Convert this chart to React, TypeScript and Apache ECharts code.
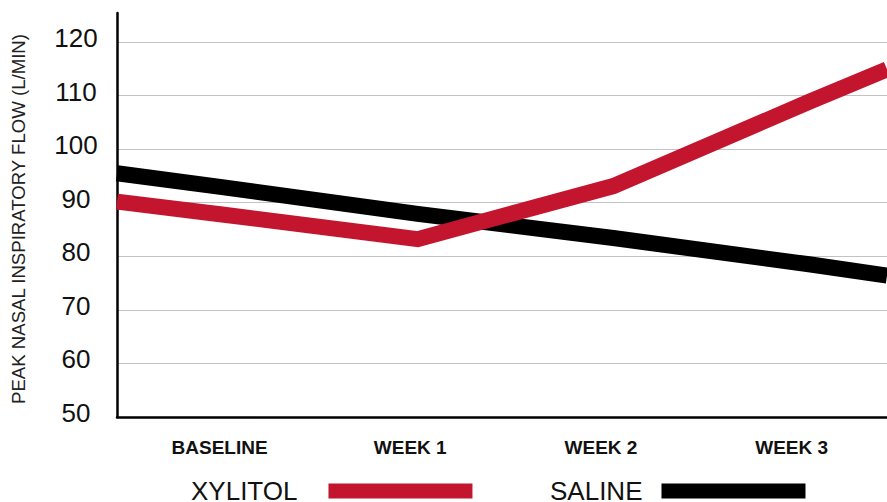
import React, { useEffect, useRef } from "react";
import * as echarts from "echarts";

// Category labels along the x axis
const categories = ["BASELINE", "WEEK 1", "WEEK 2", "WEEK 3"];
// Peak nasal inspiratory flow (L/min) at each category
const xylitol = [87.8, 83.2, 93.1, 108.8];
const saline = [92.9, 87.9, 83.4, 78.5];
// Values where each line meets the y axis (left) and the right edge of the plot
const xylitolEdges = [90.2, 114.9];
const salineEdges = [95.5, 76.4];
// Y axis
const yMin = 50;
const yMax = 125.4;
const yInterval = 10;
// Series names
const seriesNames = ["XYLITOL", "SALINE"];

const X_LEFT = -0.537;
const X_RIGHT = 3.399;
const FONT = "'Liberation Sans', Arial, Helvetica, sans-serif";
const RED = "#c4152f";

function buildLine(values: number[], edges: number[]) {
  const pts: number[][] = [[X_LEFT, edges[0]]];
  values.forEach((v, i) => pts.push([i, v]));
  pts.push([X_RIGHT, edges[1]]);
  return pts;
}

export default function App() {
  const ref = useRef<HTMLDivElement>(null);
  useEffect(() => {
    if (!ref.current) return;
    const chart = echarts.init(ref.current, null, { renderer: "svg" });
    const splitColors = [
      "#c2c2c2", "#c2c2c2", "#c2c2c2", "#c2c2c2",
      "#c2c2c2", "#c2c2c2", "#c2c2c2", "#c2c2c2", "rgba(0,0,0,0)",
    ];
    const legendBase = {
      top: 478,
      padding: 0,
      icon: "rect",
      itemWidth: 144,
      itemHeight: 15,
      align: "right",
      selectedMode: false,
    };
    chart.setOption({
      animation: false,
      backgroundColor: "#ffffff",
      grid: [
        { left: 117, width: 770, top: 13, height: 404 },
        { left: 124.2, width: 782.7, top: 13, height: 404 },
      ],
      xAxis: [
        {
          type: "value",
          gridIndex: 0,
          min: X_LEFT,
          max: X_RIGHT,
          axisLine: { show: true, onZero: false, lineStyle: { color: "#000", width: 2.5 } },
          axisTick: { show: false },
          axisLabel: { show: false },
          splitLine: { show: false },
        },
        {
          type: "category",
          gridIndex: 1,
          data: categories,
          boundaryGap: true,
          axisLine: { show: false },
          axisTick: { show: false },
          axisLabel: {
            margin: 21,
            fontSize: 19,
            fontWeight: "bold",
            color: "#111",
            fontFamily: FONT,
          },
        },
      ],
      yAxis: [
        {
          type: "value",
          gridIndex: 0,
          min: yMin,
          max: yMax,
          interval: yInterval,
          name: "PEAK NASAL INSPIRATORY FLOW (L/MIN)",
          nameLocation: "middle",
          nameGap: 89,
          nameTextStyle: {
            fontSize: 18.6,
            color: "#222",
            fontFamily: FONT,
            padding: [0, 8, 0, 0],
          },
          axisLine: { show: true, onZero: false, lineStyle: { color: "#000", width: 2.5 } },
          axisTick: { show: false },
          axisLabel: {
            align: "center",
            verticalAlign: "bottom",
            lineHeight: 8,
            margin: 41,
            fontSize: 26,
            color: "#111",
            fontFamily: FONT,
            showMaxLabel: false,
            formatter: (v: number) => (Math.abs(v % 10) < 1e-6 ? String(v) : ""),
          },
          splitLine: { show: true, lineStyle: { color: splitColors, width: 1.2 } },
        },
        { type: "value", gridIndex: 1, min: 0, max: 1, show: false },
      ],
      legend: [
        {
          ...legendBase,
          data: [seriesNames[0]],
          left: 191,
          textStyle: {
            fontSize: 26,
            lineHeight: 15,
            color: "#111",
            fontFamily: FONT,
            padding: [0, 26, 10, 0],
          },
        },
        {
          ...legendBase,
          data: [seriesNames[1]],
          left: 550,
          textStyle: {
            fontSize: 26,
            lineHeight: 15,
            color: "#111",
            fontFamily: FONT,
            padding: [0, 14, 10, 0],
          },
        },
      ],
      series: [
        {
          name: seriesNames[1],
          type: "line",
          xAxisIndex: 0,
          yAxisIndex: 0,
          data: buildLine(saline, salineEdges),
          showSymbol: false,
          symbol: "none",
          silent: true,
          color: "#000",
          itemStyle: { color: "#000" },
          lineStyle: { color: "#000", width: 16, cap: "butt", join: "miter" },
        },
        {
          name: seriesNames[0],
          type: "line",
          xAxisIndex: 0,
          yAxisIndex: 0,
          data: buildLine(xylitol, xylitolEdges),
          showSymbol: false,
          symbol: "none",
          silent: true,
          color: RED,
          itemStyle: { color: RED },
          lineStyle: { color: RED, width: 16, cap: "butt", join: "miter" },
        },
      ],
    });
    return () => chart.dispose();
  }, []);
  return (
    <div
      ref={ref}
      style={{ position: "fixed", left: 0, top: 0, width: 887, height: 502, background: "#fff" }}
    />
  );
}
